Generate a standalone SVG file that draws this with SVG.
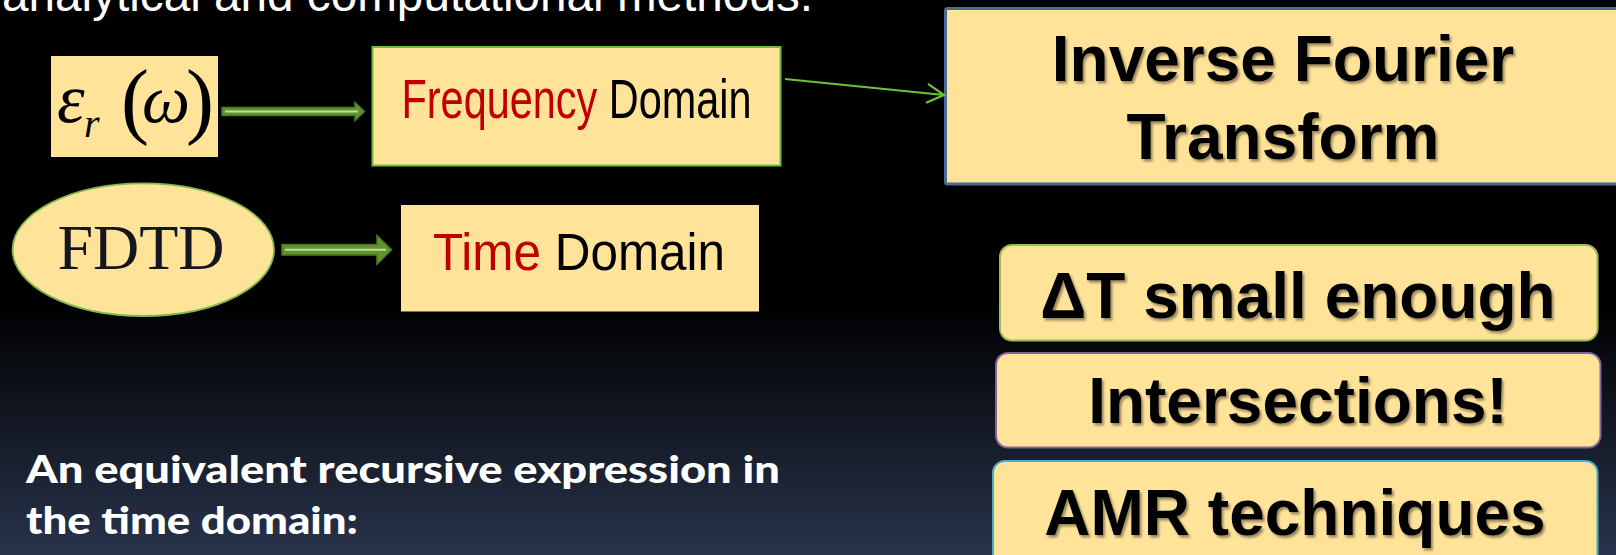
<svg xmlns="http://www.w3.org/2000/svg" width="1616" height="555" viewBox="0 0 1616 555">
<defs>
<linearGradient id="bg" x1="0" y1="0" x2="0" y2="555" gradientUnits="userSpaceOnUse">
<stop offset="0" stop-color="#000000"/>
<stop offset="0.55" stop-color="#000000"/>
<stop offset="1" stop-color="#28334b"/>
</linearGradient>
<filter id="sh" x="-5%" y="-20%" width="110%" height="140%">
<feDropShadow dx="2" dy="2.5" stdDeviation="1.2" flood-color="#4a4030" flood-opacity="0.55"/>
</filter>
<marker id="open" markerUnits="userSpaceOnUse" markerWidth="22" markerHeight="24" refX="18" refY="10" orient="auto" viewBox="0 0 22 20">
<path d="M1,0.5 L18,10 L1,19.5" fill="none" stroke="#6cc23a" stroke-width="2.2"/>
</marker>
</defs>
<style>
.box{fill:#ffe399}
.sans{font-family:"Liberation Sans",Arial,sans-serif}
.big{font-family:"Liberation Sans",Arial,sans-serif;font-weight:bold;font-size:64px;fill:#000;text-anchor:middle}
.serif{font-family:"Liberation Serif","Times New Roman",serif}
.blk{fill:#5f952c;stroke:#4a7a20;stroke-width:1.5}
.inner{stroke:#c3dc96;stroke-width:2}
.red{fill:#c00000}
</style>
<rect x="0" y="0" width="1616" height="555" fill="url(#bg)"/>

<text x="2" y="11" class="sans" font-size="47.5" fill="#ffffff" textLength="811" lengthAdjust="spacingAndGlyphs">analytical and computational methods.</text>

<g id="node-eps">
<rect class="box" x="51" y="56" width="167" height="101"/>
<text class="serif" fill="#000"><tspan x="57" y="122" font-style="italic" font-size="70">ε</tspan><tspan x="84" y="137" font-style="italic" font-size="40">r</tspan><tspan x="121" y="128" font-size="84">(</tspan><tspan x="142" y="122" font-style="italic" font-size="68">ω</tspan><tspan x="186" y="128" font-size="84">)</tspan></text>
</g>

<g id="node-freq">
<rect class="box" x="372.5" y="47" width="408" height="118.5" stroke="#6cbf3c" stroke-width="2"/>
<text class="sans" font-size="56" x="401.5" y="118" textLength="350" lengthAdjust="spacingAndGlyphs"><tspan class="red">Frequency</tspan><tspan fill="#000"> Domain</tspan></text>
</g>

<g id="node-fdtd">
<ellipse class="box" cx="143.3" cy="249.7" rx="130.7" ry="66.3" stroke="#82b850" stroke-width="1.8"/>
<text class="serif" font-size="64" x="141" y="269" text-anchor="middle" fill="#15151f">FDTD</text>
</g>

<g id="node-time">
<rect class="box" x="401" y="205" width="358" height="106.5"/>
<text class="sans" font-size="51" x="433" y="270" textLength="292" lengthAdjust="spacingAndGlyphs"><tspan class="red">Time</tspan><tspan fill="#000"> Domain</tspan></text>
</g>

<g id="node-ift">
<rect class="box" x="945.5" y="8.5" width="680" height="175.5" rx="2" stroke="#4a6a98" stroke-width="3"/>
<text class="big" x="1283" y="81" filter="url(#sh)">Inverse Fourier</text>
<text class="big" x="1283" y="159" filter="url(#sh)">Transform</text>
</g>

<g id="node-dt">
<rect class="box" x="1000" y="245" width="597.5" height="95.5" rx="12" stroke="#9bbb59" stroke-width="2"/>
<text class="big" x="1298" y="318" filter="url(#sh)">ΔT small enough</text>
</g>

<g id="node-inter">
<rect class="box" x="996" y="353" width="604.5" height="94.5" rx="12" stroke="#8064a2" stroke-width="2"/>
<text class="big" x="1298" y="423" filter="url(#sh)">Intersections!</text>
</g>

<g id="node-amr">
<rect class="box" x="993" y="461" width="604.5" height="110" rx="12" stroke="#4bacc6" stroke-width="2"/>
<text class="big" x="1295" y="535" filter="url(#sh)">AMR techniques</text>
</g>

<g id="connectors">
<polygon class="blk" points="222,107.5 355,107.5 355,102.5 364.5,111.5 355,120.5 355,115.5 222,115.5"/>
<line class="inner" x1="225" y1="111.5" x2="358" y2="111.5"/>
<polygon class="blk" points="282,244.5 377,244.5 377,235.5 391.5,249.8 377,264.2 377,255 282,255"/>
<line class="inner" x1="285" y1="249.8" x2="386" y2="249.8" stroke-width="3"/>
<line x1="785" y1="79" x2="944" y2="95" stroke="#6cc23a" stroke-width="2.2" marker-end="url(#open)"/>
</g>

<g id="caption" font-family="Lato,'Liberation Sans',sans-serif" font-weight="900" fill="#ffffff" font-size="38">
<text x="26" y="483" textLength="754" lengthAdjust="spacingAndGlyphs">An equivalent recursive expression in</text>
<text x="26" y="534" textLength="332" lengthAdjust="spacingAndGlyphs">the time domain:</text>
</g>
</svg>
